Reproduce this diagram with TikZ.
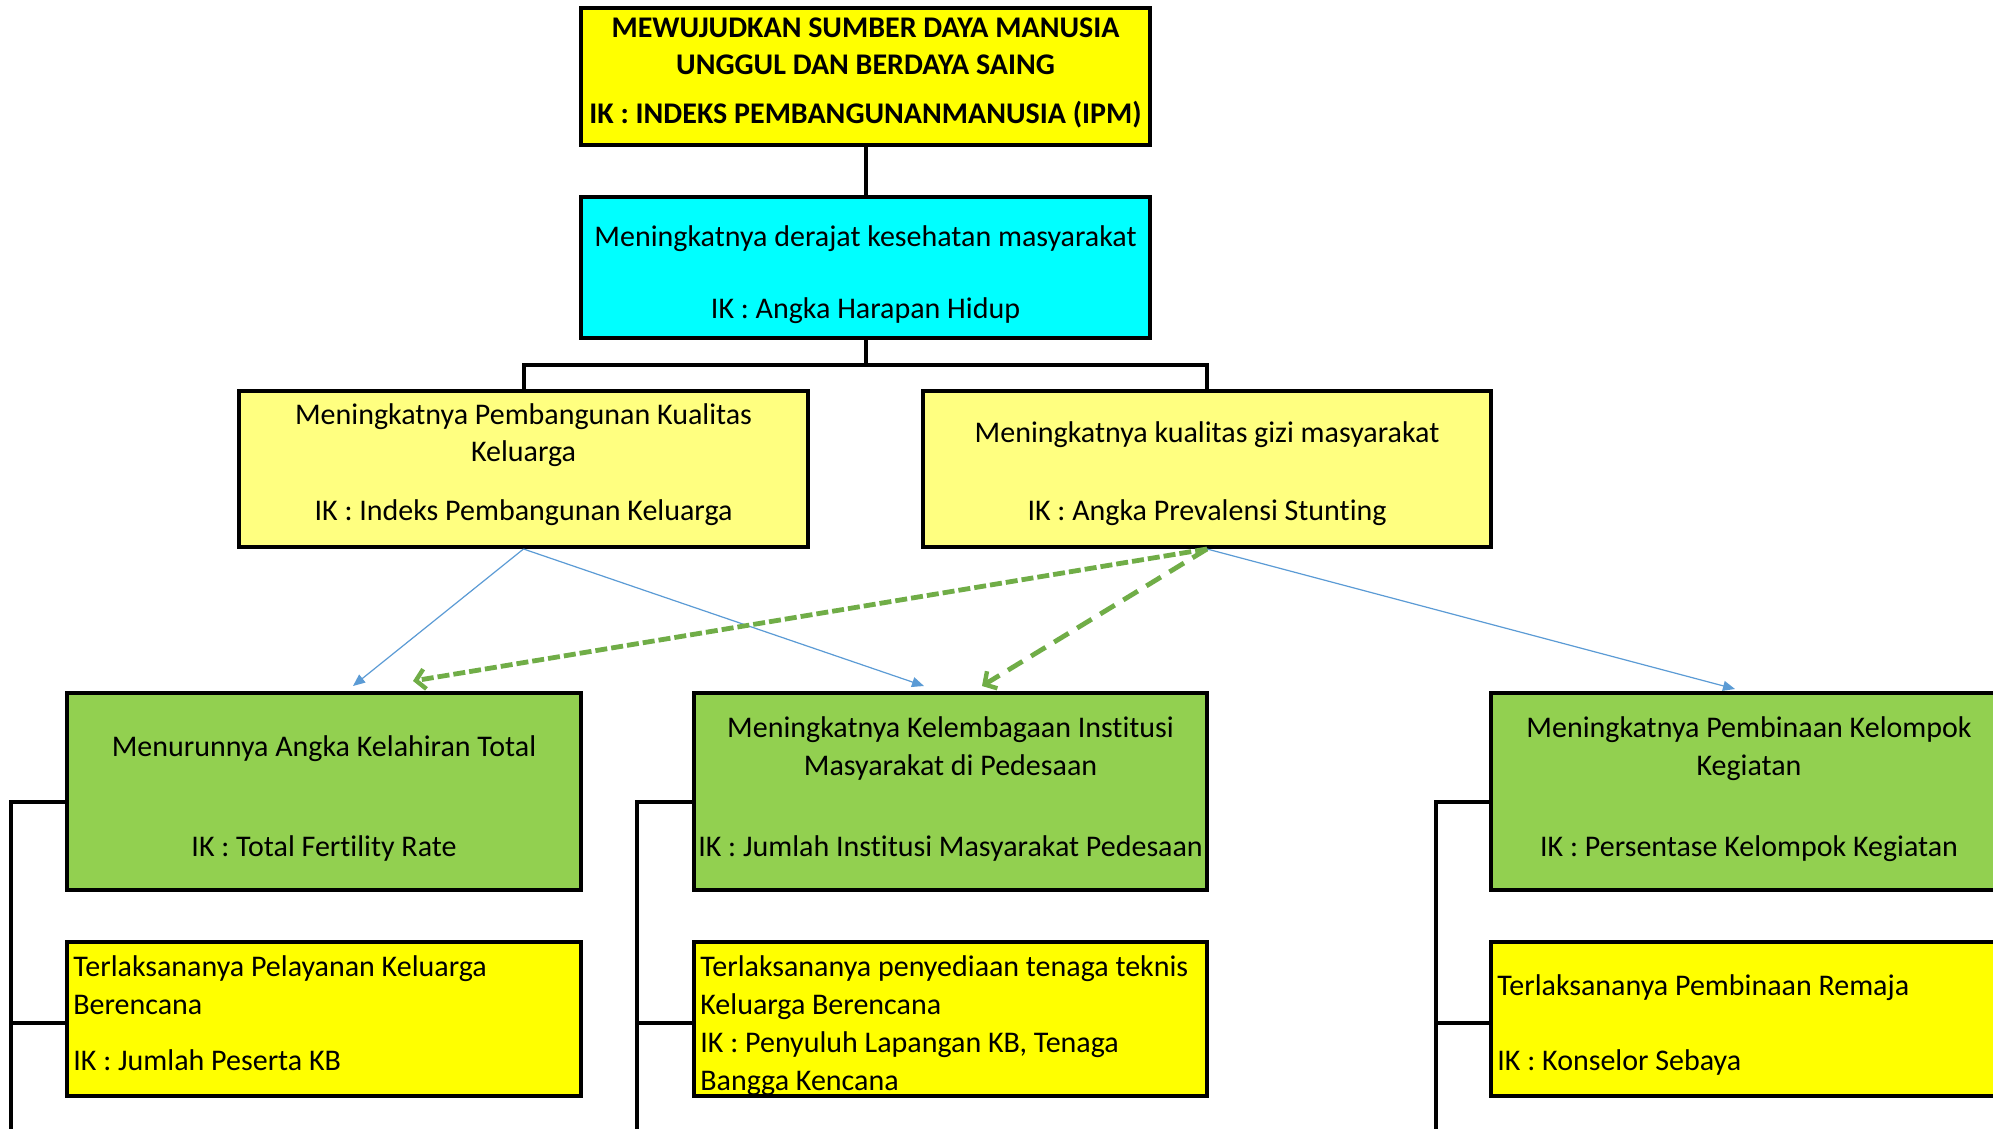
\documentclass[tikz,border=0pt]{standalone}
\usepackage{fontspec}
\setmainfont{Carlito}[Ligatures={NoCommon}]
\usetikzlibrary{arrows.meta}
\definecolor{ybright}{HTML}{FFFF00}
\definecolor{ylight}{HTML}{FFFF80}
\definecolor{cyanbox}{HTML}{00FFFF}
\definecolor{greenbox}{HTML}{92D050}
\definecolor{arrowblue}{HTML}{5B9BD5}
\definecolor{arrowgreen}{HTML}{70AD47}
\begin{document}
\begin{tikzpicture}[x=0.5pt,y=-0.5pt,
  box/.style={draw=black, line width=2pt, inner sep=0pt, rectangle},
  tx/.style={inner sep=0pt, anchor=base, yshift=-0.5pt, font=\fontsize{15}{18}\selectfont},
  txl/.style={tx, anchor=base west},
  txb/.style={tx, font=\fontsize{15}{18}\selectfont\bfseries},
  conn/.style={draw=black, line width=2pt},
  bluearr/.style={draw=arrowblue, line width=0.6pt, -{Triangle[length=6pt,width=5pt]}},
  greenarr/.style={draw=arrowgreen, line width=2.4pt, -{Straight Barb[length=4.5pt,width=10pt,line width=2.2pt]}}
]
\useasboundingbox (0,0) rectangle (1993,1129);
\clip (0,0) rectangle (1993,1129);
\fill[white] (0,0) rectangle (1993,1129);

% boxes
\node[box, fill=ybright, minimum width={569*0.5pt}, minimum height={137*0.5pt}] (top) at (865.5,76.5) {};
\node[box, fill=cyanbox, minimum width={569*0.5pt}, minimum height={141*0.5pt}] (cyan) at (865.5,267.5) {};
\node[box, fill=ylight, minimum width={569*0.5pt}, minimum height={156*0.5pt}] (l2a) at (523.5,469) {};
\node[box, fill=ylight, minimum width={568*0.5pt}, minimum height={156*0.5pt}] (l2b) at (1207,469) {};
\node[box, fill=greenbox, minimum width={514*0.5pt}, minimum height={197*0.5pt}] (l3a) at (324,791.5) {};
\node[box, fill=greenbox, minimum width={513*0.5pt}, minimum height={197*0.5pt}] (l3b) at (950.5,791.5) {};
\node[box, fill=greenbox, minimum width={514*0.5pt}, minimum height={197*0.5pt}] (l3c) at (1748,791.5) {};
\node[box, fill=ybright, minimum width={514*0.5pt}, minimum height={154*0.5pt}] (l4a) at (324,1019) {};
\node[box, fill=ybright, minimum width={513*0.5pt}, minimum height={154*0.5pt}] (l4b) at (950.5,1019) {};
\node[box, fill=ybright, minimum width={514*0.5pt}, minimum height={154*0.5pt}] (l4c) at (1748,1019) {};

% texts
\node[txb] (ta1) at (865.5,37) {MEWUJUDKAN SUMBER DAYA MANUSIA};
\node[txb] (ta2) at (865.5,74) {UNGGUL DAN BERDAYA SAING};
\node[txb] (ta3) at (865.5,123) {IK : INDEKS PEMBANGUNANMANUSIA (IPM)};
\node[tx] (tb1) at (865.5,245) {Meningkatnya derajat kesehatan masyarakat};
\node[tx] (tb2) at (865.5,317) {IK : Angka Harapan Hidup};
\node[tx] (tc1) at (523.5,423) {Meningkatnya Pembangunan Kualitas};
\node[tx] (tc2) at (523.5,460) {Keluarga};
\node[tx] (tc3) at (523.5,519) {IK : Indeks Pembangunan Keluarga};
\node[tx] (td1) at (1207,441) {Meningkatnya kualitas gizi masyarakat};
\node[tx] (td2) at (1207,519) {IK : Angka Prevalensi Stunting};
\node[tx] (te1) at (324,755) {Menurunnya Angka Kelahiran Total};
\node[tx] (te2) at (324,855) {IK : Total Fertility Rate};
\node[tx] (tf1) at (950.5,736) {Meningkatnya Kelembagaan Institusi};
\node[tx] (tf2) at (950.5,774) {Masyarakat di Pedesaan};
\node[tx] (tf3) at (950.5,855) {IK : Jumlah Institusi Masyarakat Pedesaan};
\node[tx] (tg1) at (1749,736) {Meningkatnya Pembinaan Kelompok};
\node[tx] (tg2) at (1749,774) {Kegiatan};
\node[tx] (tg3) at (1749,855) {IK : Persentase Kelompok Kegiatan};
\node[txl] (th1) at (73,975) {Terlaksananya Pelayanan Keluarga};
\node[txl] (th2) at (73,1013) {Berencana};
\node[txl] (th3) at (73,1069) {IK : Jumlah Peserta KB};
\node[txl] (ti1) at (700,975) {Terlaksananya penyediaan tenaga teknis};
\node[txl] (ti2) at (700,1013) {Keluarga Berencana};
\node[txl] (ti3) at (700,1051) {IK : Penyuluh Lapangan KB, Tenaga};
\node[txl] (ti4) at (700,1089) {Bangga Kencana};
\node[txl] (tj1) at (1497,994) {Terlaksananya Pembinaan Remaja};
\node[txl] (tj2) at (1497,1069) {IK : Konselor Sebaya};

% tree connectors
\draw[conn] (top.south) -- (cyan.north);
\draw[conn] (cyan.south) -- ++(0,25) coordinate (jn);
\draw[conn] (l2a.north) |- (jn) -| (l2b.north);

% brackets
\coordinate (bl) at (11,1140);
\coordinate (bm) at (637,1140);
\coordinate (br) at (1436,1140);
\draw[conn] ([yshift=-5.25pt]l3a.west) -| (bl);
\draw[conn] ([yshift=-2pt]l4a.west) -| (bl);
\draw[conn] ([yshift=-5.25pt]l3b.west) -| (bm);
\draw[conn] ([yshift=-2pt]l4b.west) -| (bm);
\draw[conn] ([yshift=-5.25pt]l3c.west) -| (br);
\draw[conn] ([yshift=-2pt]l4c.west) -| (br);

% arrows
\coordinate (e1) at (353,686);
\coordinate (e2) at (924,686);
\coordinate (e3) at (1735,689);
\coordinate (e4) at (413,681);
\coordinate (e5) at (982,686);
\draw[bluearr] (l2a.south) -- (e1);
\draw[bluearr] (l2a.south) -- (e2);
\draw[bluearr] (l2b.south) -- (e3);
\draw[greenarr, dash pattern=on 6pt off 2pt] (l2b.south) -- (e4);
\draw[greenarr, dash pattern=on 8.5pt off 5pt] (l2b.south) -- (e5);
\end{tikzpicture}
\end{document}
